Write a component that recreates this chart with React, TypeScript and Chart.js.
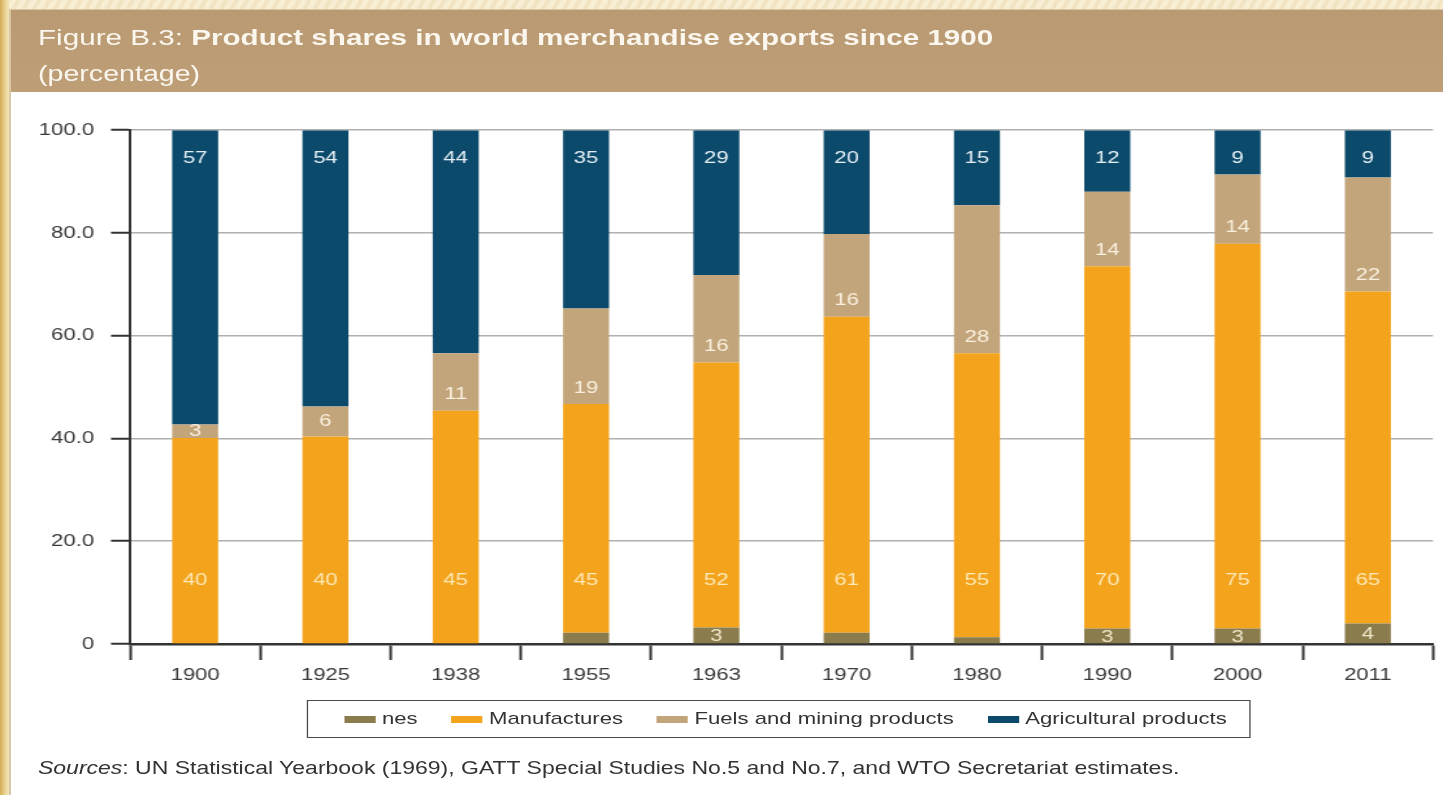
import React, { useEffect, useRef } from "react";
import { Chart, registerables } from "chart.js";

Chart.register(...registerables);

// ---- Data ----
const categories = ["1900", "1925", "1938", "1955", "1963", "1970", "1980", "1990", "2000", "2011"];

const nesValues = [0, 0, 0, 2.2, 3.2, 2.2, 1.3, 3, 3, 4];
const manufacturesValues = [40.1, 40.4, 45.4, 44.5, 51.6, 61.5, 55.3, 70.5, 74.9, 64.6];
const fuelsValues = [2.6, 5.8, 11.2, 18.6, 17.0, 16.1, 28.8, 14.5, 13.5, 22.2];
const agriculturalValues = [57.3, 53.8, 43.4, 34.7, 28.2, 20.2, 14.6, 12.0, 8.6, 9.2];

// printed labels on the bar segments
const nesLabels = ["", "", "", "", "3", "", "", "3", "3", "4"];
const manufacturesLabels = ["40", "40", "45", "45", "52", "61", "55", "70", "75", "65"];
const fuelsLabels = ["3", "6", "11", "19", "16", "16", "28", "14", "14", "22"];
const agriculturalLabels = ["57", "54", "44", "35", "29", "20", "15", "12", "9", "9"];

const seriesNames = ["nes", "Manufactures", "Fuels and mining products", "Agricultural products"];
const seriesColors = ["#8a7c4c", "#f4a31c", "#c3a57c", "#0c4a6b"];
const labelColors = ["#efe6c8", "#fde9b6", "#f9f0de", "#e4eff5"];

const yTickValues = [0, 20, 40, 60, 80, 100];

const FONT = "'Liberation Sans', Arial, Helvetica, sans-serif";
const SX = 1.3; // horizontal stretch of the reference

const segLabelPlugin = {
  id: "segLabels",
  afterDatasetsDraw(chart: any) {
    const ctx = chart.ctx;
    const zeroY = chart.scales.y.getPixelForValue(0);
    ctx.save();
    ctx.font = `17px ${FONT}`;
    ctx.textAlign = "center";
    ctx.textBaseline = "middle";
    chart.data.datasets.forEach((ds: any, i: number) => {
      const meta = chart.getDatasetMeta(i);
      const labels: string[] = ds.segLabels;
      ctx.fillStyle = labelColors[i];
      meta.data.forEach((bar: any, j: number) => {
        const text = labels[j];
        if (!text) return;
        const top = bar.y;
        const bottom = bar.base;
        let y: number;
        if (i === 0) y = (top + bottom) / 2 + 1;
        else if (i === 1) y = zeroY - 64;
        else if (i === 2) y = Math.max((top + bottom) / 2, bottom - 16);
        else y = top + 28;
        ctx.fillText(text, bar.x, y);
      });
    });
    ctx.restore();
  },
};

function ChartCanvas() {
  const ref = useRef<HTMLCanvasElement | null>(null);
  useEffect(() => {
    if (!ref.current) return;
    const valueSets = [nesValues, manufacturesValues, fuelsValues, agriculturalValues];
    const labelSets = [nesLabels, manufacturesLabels, fuelsLabels, agriculturalLabels];
    const chart = new Chart(ref.current, {
      type: "bar",
      data: {
        labels: categories,
        datasets: valueSets.map((vals, i) => ({
          label: seriesNames[i],
          data: vals,
          backgroundColor: seriesColors[i],
          borderWidth: 0,
          barPercentage: 0.353,
          categoryPercentage: 1,
          segLabels: labelSets[i],
        })) as any,
      },
      options: {
        responsive: false,
        animation: false,
        layout: { padding: { left: 0, right: 7.7, top: 16, bottom: 0 } },
        plugins: {
          legend: { display: false },
          tooltip: { enabled: false },
          title: { display: false },
        },
        scales: {
          x: {
            stacked: true,
            grid: {
              display: true,
              drawOnChartArea: false,
              drawTicks: true,
              tickLength: 16,
              tickColor: "#333",
              tickWidth: 2,
              offset: true,
            },
            border: { display: true, color: "#333", width: 2.5 },
            ticks: {
              color: "#3a3a3a",
              font: { family: FONT, size: 17 },
              padding: 5,
              maxRotation: 0,
            },
            afterFit(scale: any) {
              scale.height = 49;
            },
          },
          y: {
            stacked: true,
            min: 0,
            max: 100,
            afterBuildTicks(scale: any) {
              scale.ticks = yTickValues.map((v) => ({ value: v }));
            },
            grid: {
              color: "#b0b0b0",
              lineWidth: 1.5,
              drawTicks: true,
              tickLength: 14.6,
              tickColor: "#333",
              tickWidth: 2,
            },
            border: { display: true, color: "#333", width: 2 },
            ticks: {
              color: "#3a3a3a",
              font: { family: FONT, size: 17 },
              padding: 13,
              callback: (v: any) => (Number(v) === 0 ? "0" : Number(v).toFixed(1)),
            },
            afterFit(scale: any) {
              scale.width = 100;
            },
          },
        },
      },
      plugins: [segLabelPlugin],
    });
    return () => chart.destroy();
  }, []);
  return (
    <canvas
      ref={ref}
      width={1110}
      height={586}
      style={{ position: "absolute", left: 0, top: 107, width: 1110, height: 586 }}
    />
  );
}

export default function App() {
  const W = 1443;
  const H = 795;
  const s = (x: number) => x / SX;
  return (
    <div
      style={{
        position: "absolute",
        left: 0,
        top: 0,
        width: W,
        height: H,
        overflow: "hidden",
        background:
          "repeating-linear-gradient(120deg, #f8eed3 0px, #f8eed3 5px, #f2e4c2 5px, #f2e4c2 9px)",
        fontFamily: FONT,
      }}
    >
      {/* golden left edge */}
      <div
        style={{
          position: "absolute",
          left: 0,
          top: 0,
          width: 9,
          height: H,
          background: "linear-gradient(90deg, #d4ad55, #ecd596 60%, #f3e4b8)",
        }}
      />
      {/* white chart box */}
      <div
        style={{
          position: "absolute",
          left: 9,
          top: 9,
          width: W - 9,
          height: H - 9,
          background: "#ffffff",
          borderLeft: "2px solid #d8c7a4",
          borderTop: "1px solid #d8c7a4",
          boxSizing: "border-box",
        }}
      />
      {/* header band */}
      <div
        style={{
          position: "absolute",
          left: 11,
          top: 10,
          width: W - 11,
          height: 82,
          background: "linear-gradient(180deg, #b99a72, #bd9e76)",
        }}
      />
      {/* stretched layer */}
      <div
        style={{
          position: "absolute",
          left: 0,
          top: 0,
          width: W / SX,
          height: H,
          transform: `scaleX(${SX})`,
          transformOrigin: "0 0",
        }}
      >
        <div
          style={{
            position: "absolute",
            left: s(38),
            top: 24,
            fontSize: 22.8,
            lineHeight: "26px",
            color: "#fbf7ef",
            whiteSpace: "nowrap",
          }}
        >
          <span>Figure B.3: </span>
          <span style={{ fontWeight: "bold" }}>Product shares in world merchandise exports since 1900</span>
        </div>
        <div
          style={{
            position: "absolute",
            left: s(38),
            top: 61,
            fontSize: 22,
            lineHeight: "26px",
            color: "#fbf7ef",
            whiteSpace: "nowrap",
          }}
        >
          (percentage)
        </div>

        <ChartCanvas />

        {/* legend */}
        <div
          style={{
            position: "absolute",
            left: s(307),
            top: 700,
            width: s(1250 - 307),
            height: 38,
            border: "1.5px solid #4a4a4a",
            boxSizing: "border-box",
            display: "flex",
            alignItems: "center",
            paddingLeft: s(345 - 309),
            fontSize: 17,
            color: "#333",
            whiteSpace: "nowrap",
          }}
        >
          {seriesNames.map((name, i) => (
            <div key={name} style={{ display: "flex", alignItems: "center", marginRight: i < 3 ? 26 : 0 }}>
              <div style={{ width: 24, height: 7, background: seriesColors[i], marginRight: 5 }} />
              <span>{name}</span>
            </div>
          ))}
        </div>

        {/* sources */}
        <div
          style={{
            position: "absolute",
            left: s(38),
            top: 757,
            fontSize: 17.7,
            lineHeight: "22px",
            color: "#333",
            whiteSpace: "nowrap",
          }}
        >
          <span style={{ fontStyle: "italic" }}>Sources</span>: UN Statistical Yearbook (1969), GATT Special Studies No.5 and
          No.7, and WTO Secretariat estimates.
        </div>
      </div>
    </div>
  );
}
